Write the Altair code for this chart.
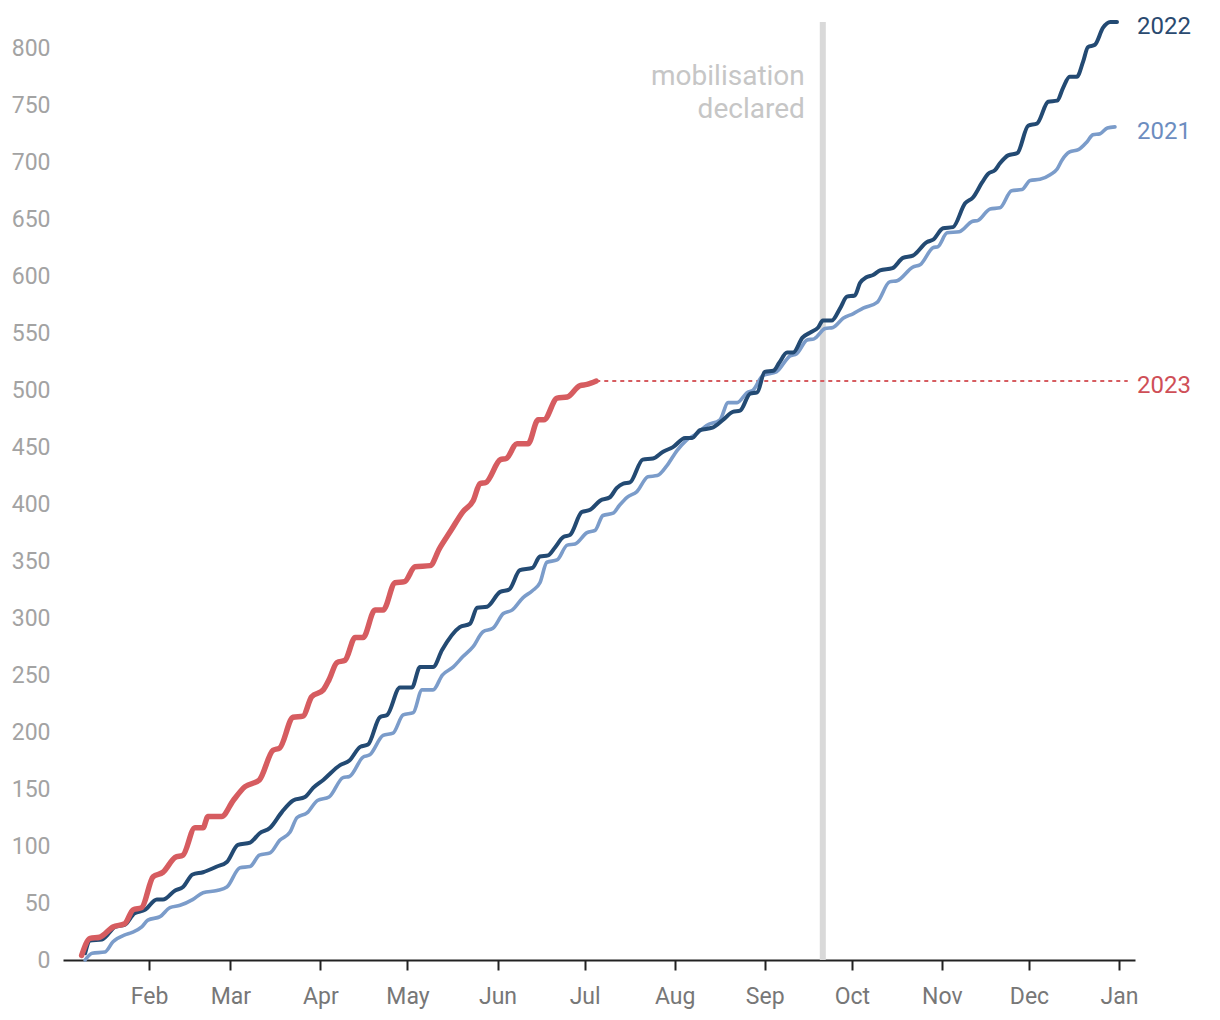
import altair as alt
import pandas as pd

# (day-of-year offset from 1 Jan, cumulative value)
series_2021 = [
    (9, 0), (11.4, 6), (15.8, 7), (18.6, 16), (22.7, 22), (25, 24), (28.5, 29), (30.6, 35),
    (34.8, 38), (38.2, 46), (41.7, 48), (46, 53), (49.6, 59), (54.4, 61), (57.8, 64),
    (62.3, 81), (65.8, 82), (69, 92), (72.7, 94), (76, 105), (79.5, 112), (82, 125),
    (85.4, 129), (89, 140), (93, 143), (97.8, 160), (100, 161), (104.7, 178), (107, 180),
    (111.6, 197), (115, 199), (118.5, 215), (122, 217), (125, 237), (128.8, 237), (132, 250),
    (135.7, 257), (139, 266), (142.6, 275), (146, 288), (149.4, 291), (153, 304), (156, 307),
    (159.8, 318), (163, 324), (165.6, 331), (168, 349), (171.5, 351), (175, 364), (177.7, 365),
    (181.8, 375), (184.6, 377), (187.3, 390), (190.8, 392), (193, 399), (195.6, 406),
    (199, 411), (202.8, 424), (206, 425), (209.4, 434), (212.8, 447), (216, 456),
    (219.7, 462), (223, 469), (227.6, 474), (230.4, 489), (233.5, 489), (237, 498),
    (239, 500), (242.4, 513), (247, 516), (251.7, 530), (254, 532), (257.6, 544), (260, 545),
    (263.8, 554), (266.5, 555), (270, 563), (273.4, 567), (276.9, 572), (281.7, 577),
    (286, 595), (288.6, 596), (294, 608), (296.5, 610), (301, 625), (302.7, 626),
    (305.8, 638), (310, 639), (314.4, 648), (316.5, 649), (320.6, 659), (324, 660),
    (328, 675), (331.6, 676), (334.4, 684), (337.8, 685), (341.3, 689), (343.7, 694),
    (345.4, 702), (348, 709), (351, 711), (354, 718), (356, 724), (358.5, 725), (361, 730),
    (363.6, 731),
]

series_2022 = [
    (9, 6), (10.7, 17), (14.8, 18), (19.3, 29), (22.7, 31), (26, 41), (29.6, 44), (33.7, 53),
    (35.8, 53), (40, 61), (42.7, 64), (46, 75), (49.6, 77), (54.4, 82), (57.8, 86),
    (61.6, 101), (65.8, 103), (69, 111), (72.7, 116), (76.8, 130), (80.6, 140), (84.7, 143),
    (87.5, 151), (91, 158), (96.8, 171), (100, 175), (103.7, 187), (106.4, 189),
    (110.5, 213), (113, 215), (117.4, 239), (121.5, 239), (124.3, 257), (128.8, 257),
    (131.9, 272), (138, 292), (141.5, 295), (144, 309), (147.4, 310), (151.9, 323),
    (155, 325), (158.7, 342), (163, 344), (165.6, 354), (168.4, 355), (170.8, 362),
    (173.6, 371), (176, 373), (180, 393), (182.9, 395), (186.3, 403), (189.7, 406),
    (192, 414), (194.3, 418), (196.6, 419), (201, 439), (204.5, 440), (208, 446),
    (211.4, 450), (215.6, 458), (218, 458), (220.7, 465), (225, 467), (228.7, 474),
    (232, 481), (234.5, 482), (238, 497), (240.4, 498), (243, 516), (246, 517), (248, 524),
    (250.7, 533), (252.8, 533), (256, 546), (259, 551), (261.4, 555), (263, 561), (266, 561),
    (269, 572), (271.3, 582), (274, 583), (275.8, 594), (278, 599), (280.3, 601),
    (282.7, 605), (287, 607), (290.6, 616), (294, 618), (298.9, 630), (301, 632),
    (304.4, 642), (307.8, 643), (312, 664), (314.7, 669), (317.8, 682), (320, 690),
    (322.3, 693), (324, 699), (326.8, 706), (330, 708), (333.7, 732), (336.8, 734),
    (340.6, 753), (343.7, 754), (345.7, 765), (348, 775), (350.5, 775), (352.6, 788),
    (354.3, 801), (356.7, 803), (359.5, 818), (362, 823), (364.3, 823),
]

series_2023 = [
    (7.8, 4), (10.7, 19), (14, 20), (18.6, 29), (22.7, 32), (25.5, 44), (28.5, 46),
    (32.4, 73), (35.8, 77), (40, 90), (42.7, 92), (46.8, 116), (49.6, 116), (51.3, 126),
    (56, 126), (60, 140), (64, 152), (69, 158), (73.7, 184), (76, 186), (80.6, 213),
    (84, 214), (87, 231), (91, 237), (93, 246), (95.7, 261), (98.5, 263), (102, 283),
    (104.7, 283), (108.8, 307), (111.6, 307), (115.7, 331), (119, 332), (122.6, 345),
    (127.8, 346), (131, 361), (135, 377), (139, 393), (142.6, 403), (145, 418), (147, 419),
    (152, 439), (154, 440), (157.7, 453), (161.5, 453), (165, 474), (167, 474),
    (171.5, 493), (175, 494), (179.4, 504), (181.8, 505), (185, 508),
]

series_names = ["2021", "2022", "2023"]
line_colors = ["#7b9cca", "#234a73", "#d65c60"]
label_colors = ["#6c8dc0", "#2a4a70", "#cf4f57"]
line_widths = [3.6, 4, 5.5]

mobilisation_day = 263  # 21 Sep
tick_months = [2, 3, 4, 5, 6, 7, 8, 9, 10, 11, 12]
y_ticks = list(range(0, 801, 50))

BASE = pd.Timestamp("2022-01-01")


def to_date(d):
    return BASE + pd.to_timedelta(d, unit="D")


def frame(pairs, name):
    return pd.DataFrame({
        "date": [to_date(d) for d, _ in pairs],
        "value": [v for _, v in pairs],
        "series": name,
    })


all_series = [series_2021, series_2022, series_2023]

x_vals = [alt.DateTime(year=2022, month=m, date=1) for m in tick_months] + [
    alt.DateTime(year=2023, month=1, date=1)
]

x_scale = alt.Scale(domain=[to_date(1.38).isoformat(), to_date(370.5).isoformat()])
y_scale = alt.Scale(domain=[0, 823], nice=False)

x_axis = alt.Axis(
    values=x_vals, format="%b", title=None, grid=False,
    domainColor="#222222", domainWidth=2, tickColor="#222222", tickWidth=2, tickSize=10,
    labelFontSize=23, labelColor="#777777", labelPadding=15, labelFont="Roboto",
)
y_axis = alt.Axis(
    values=y_ticks, title=None, grid=False, domain=False, ticks=False, tickSize=0,
    labelFontSize=23, labelColor="#a3a3a3", labelPadding=13, labelFont="Roboto",
)

X = alt.X("date:T", scale=x_scale, axis=x_axis)
Y = alt.Y("value:Q", scale=y_scale, axis=y_axis)

# mobilisation rule
mob_df = pd.DataFrame({"date": [to_date(mobilisation_day)], "value": [775],
                       "text": [["mobilisation", "declared"]]})
mob_rule = alt.Chart(mob_df).mark_rule(color="#d9d9d9", strokeWidth=6).encode(x=X)
mob_text = alt.Chart(mob_df).mark_text(
    align="right", baseline="middle", dx=-18, fontSize=28, lineHeight=33,
    color="#c6c6c6", font="Roboto",
).encode(x=X, y=Y, text="text:N")

layers = [mob_rule, mob_text]

# dashed continuation for 2023
last_2023 = series_2023[-1]
dash_df = pd.DataFrame({"date": [to_date(last_2023[0])], "date2": [to_date(368)],
                        "value": [last_2023[1]]})
layers.append(
    alt.Chart(dash_df).mark_rule(color=line_colors[2], strokeWidth=2, strokeDash=[4, 4]).encode(
        x=X, x2="date2:T", y=Y)
)

for pairs, name, col, w in zip(all_series, series_names, line_colors, line_widths):
    layers.append(
        alt.Chart(frame(pairs, name)).mark_line(
            color=col, strokeWidth=w, interpolate="monotone", strokeCap="round", strokeJoin="round"
        ).encode(x=X, y=Y)
    )

# end labels
end_day = 364.3
lab_df = pd.DataFrame({
    "date": [to_date(end_day)] * 3,
    "value": [s[-1][1] for s in all_series],
    "series": series_names,
})
layers.append(
    alt.Chart(lab_df).mark_text(align="left", baseline="middle", dx=20, dy=5, fontSize=24,
                                font="Roboto").encode(
        x=X, y=Y, text="series:N",
        color=alt.Color("series:N", scale=alt.Scale(domain=series_names, range=label_colors),
                        legend=None),
    )
)

chart = alt.layer(*layers).properties(
    width=1072, height=938,
    autosize=alt.AutoSizeParams(type="none"),
    padding={"left": 55, "top": 14, "right": 75, "bottom": 52},
).configure(font="Roboto").configure_view(stroke=None)

chart.save("out.html", embed_options={"renderer": "svg", "actions": False})
